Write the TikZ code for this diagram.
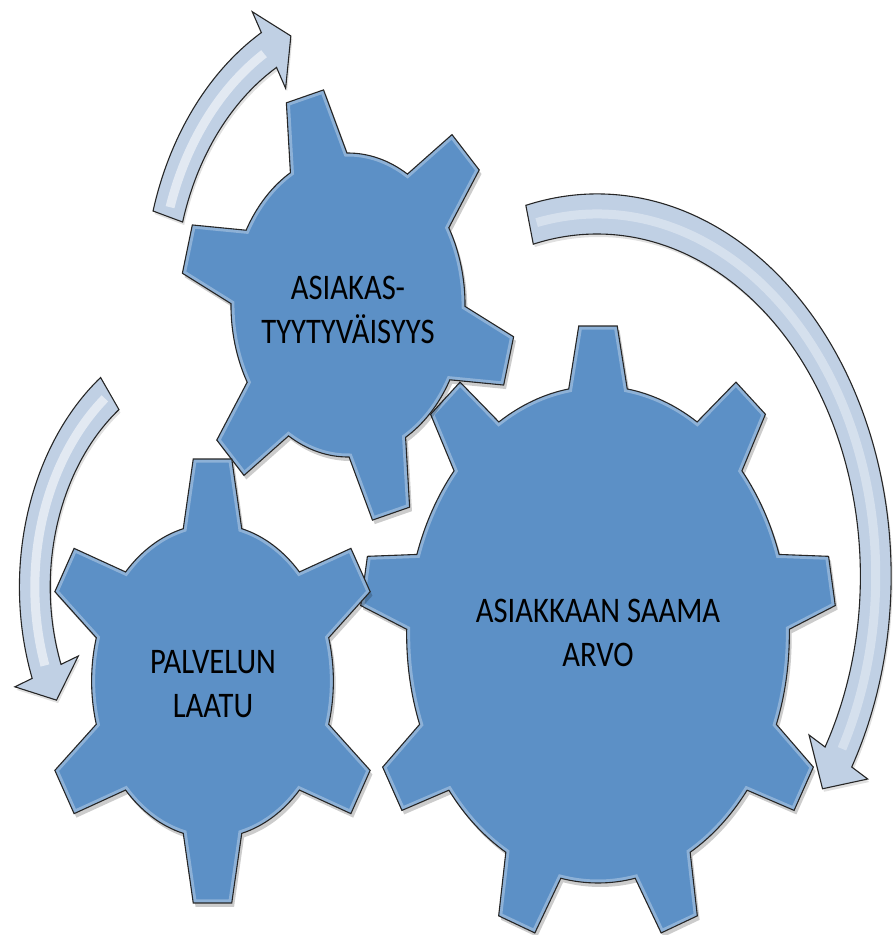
\documentclass[tikz,border=0pt]{standalone}
\usepackage{fontspec}
\newfontfamily\gearfont[FakeStretch=0.85]{Carlito}
\definecolor{gearblue}{RGB}{92,144,198}
\definecolor{arrowfill}{RGB}{192,208,228}
\tikzset{
  gearshape/.style={fill=gearblue, draw=black!85, line width=1.1pt, line join=miter},
  gearline/.style={draw=black!85, line width=1.1pt, line join=miter},
  gearshadow/.style={fill=black, opacity=0.2},
  gearglow/.style={draw=white, opacity=0.3, line width=7pt},
  arrowshape/.style={fill=arrowfill, draw=black!85, line width=1.1pt, line join=miter},
  arrowstripe/.style={draw=white, opacity=0.55, line width=9pt},
  geartext/.style={font=\gearfont\fontsize{36}{44}\selectfont, align=center, inner sep=0pt, text=black},
}
% gear geometry: tooth half width at tip 25, at base 38
\newcommand\gearsetup[2]{%
  \pgfmathsetmacro\gbeta{asin(38/#1)}%
  \pgfmathsetmacro\gtau{atan(25/#2)}%
  \pgfmathsetmacro\gRt{#2/cos(\gtau)}%
}
\newcommand\gearpath[3]{%
  ({#2-\gbeta}:#3)
  \foreach \k in {1,...,#1}{
    -- ({#2+(\k-1)*360/#1-\gtau}:\gRt)
    -- ({#2+(\k-1)*360/#1+\gtau}:\gRt)
    -- ({#2+(\k-1)*360/#1+\gbeta}:#3)
    arc[start angle={#2+(\k-1)*360/#1+\gbeta}, end angle={#2+\k*360/#1-\gbeta}, radius=#3]
  } -- cycle
}
\newcommand\drawgear[3]{% teeth, start angle, body radius
  \fill[gearshadow, shift={(3,-4)}] \gearpath{#1}{#2}{#3};
  \fill[gearblue] \gearpath{#1}{#2}{#3};
  \begin{scope}
    \clip \gearpath{#1}{#2}{#3};
    \draw[gearglow] \gearpath{#1}{#2}{#3};
  \end{scope}
  \draw[gearline] \gearpath{#1}{#2}{#3};
}
% circular arrow: tail angle, base angle, tip angle, r in, r out, r mid, barb half span
\newcommand\circarrow[7]{%
  (#1:#5) arc[start angle=#1, end angle=#2, radius=#5]
  -- (#2:{#6+#7}) -- (#3:#6) -- (#2:{#6-#7}) -- (#2:#4)
  arc[start angle=#2, end angle=#1, radius=#4] -- cycle
}
\begin{document}
\begin{tikzpicture}[x=1pt,y=1pt]
\useasboundingbox (0,0) rectangle (895,-935);

% big gear
\begin{scope}[shift={(598,-634.5)}, xscale=0.77]
  \gearsetup{248.5}{308.5}
  \drawgear{9}{90}{248.5}
\end{scope}
% top gear
\begin{scope}[shift={(348,-305)}, xscale=0.77]
  \gearsetup{152}{216}
  \drawgear{6}{105}{152}
\end{scope}
% left gear
\begin{scope}[shift={(212.5,-681)}, xscale=0.77]
  \gearsetup{157}{222}
  \drawgear{6}{90}{157}
\end{scope}

\node[geartext] (arvo) at (598,-632.8) {ASIAKKAAN SAAMA\\ARVO};
\node[geartext] (tyyt) at (348,-309.6) {ASIAKAS-\\TYYTYVÄISYYS};
\node[geartext] (laatu) at (213,-684) {PALVELUN\\LAATU};

% arrow near top gear
\begin{scope}[shift={(375.1,-293.7)}, xscale=0.77]
  \fill[gearshadow, opacity=0.12, shift={(2,-3)}] \circarrow{164}{119.5}{113}{260}{300}{280}{44};
  \draw[arrowshape] \circarrow{164}{119.5}{113}{260}{300}{280}{44};
  \draw[arrowstripe] (162:280) arc[start angle=162, end angle=121, radius=280];
\end{scope}
% arrow near left gear
\begin{scope}[shift={(220.4,-587)}, xscale=0.77]
  \fill[gearshadow, opacity=0.12, shift={(2,-3)}] \circarrow{126.6}{200.5}{208}{221}{261}{241}{44};
  \draw[arrowshape] \circarrow{126.6}{200.5}{208}{221}{261}{241}{44};
  \draw[arrowstripe] (128.5:241) arc[start angle=128.5, end angle=199, radius=241];
\end{scope}
% big arrow round the big gear
\begin{scope}[shift={(597,-576)}, xscale=0.77]
  \fill[gearshadow, opacity=0.12, shift={(2,-3)}] \circarrow{104}{-30}{-36}{342}{382}{362}{44};
  \draw[arrowshape] \circarrow{104}{-30}{-36}{342}{382}{362}{44};
  \draw[arrowstripe, opacity=0.35] (102.5:362) arc[start angle=102.5, end angle=-28.5, radius=362];
\end{scope}
\end{tikzpicture}
\end{document}
